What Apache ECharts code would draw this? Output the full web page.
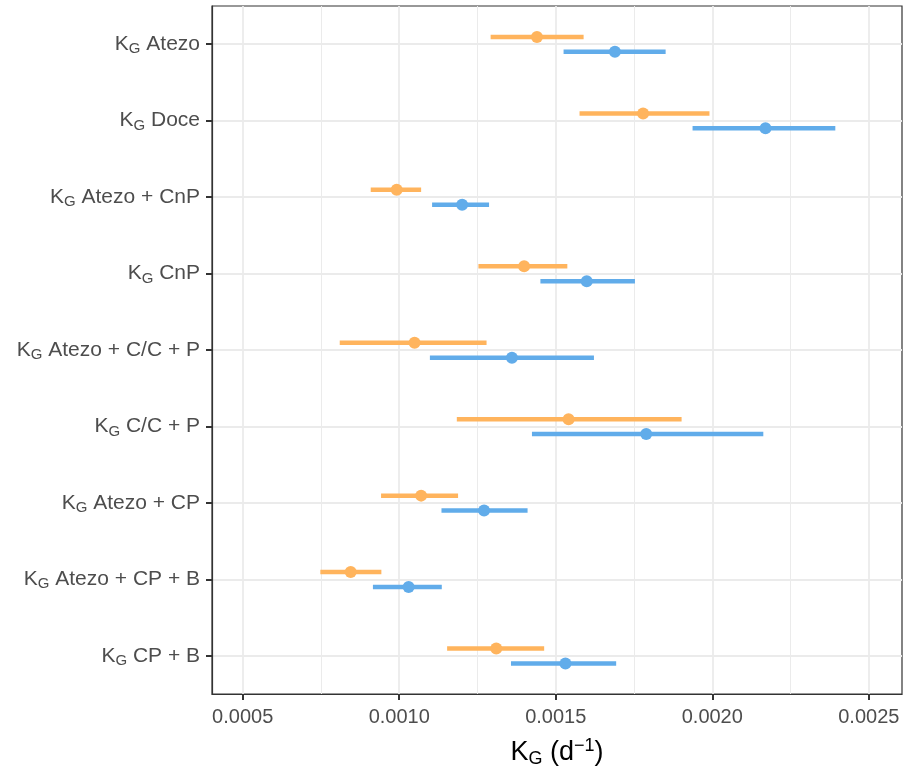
<!DOCTYPE html>
<html>
<head>
<meta charset="utf-8">
<script src="https://cdn.jsdelivr.net/npm/echarts@6/dist/echarts.min.js"></script>
<style>
	html, body { margin: 0; padding: 0; background: #fff; }
	#chart { width: 904px; height: 773px; }
</style>
</head>
<body>
<div id="chart"></div>
<script>
	// categories, top to bottom
	const categories = ['Atezo', 'Doce', 'Atezo + CnP', 'CnP', 'Atezo + C/C + P',
		'C/C + P', 'Atezo + CP', 'Atezo + CP + B', 'CP + B']
	// orange group: low, estimate, high
	const orangeLow = [0.001292, 0.001576, 0.000909, 0.001253, 0.000810, 0.001184, 0.000942, 0.000748, 0.001153]
	const orangeMid = [0.001440, 0.001779, 0.000992, 0.001399, 0.001049, 0.001541, 0.001070, 0.000845, 0.001310]
	const orangeHigh = [0.001589, 0.001991, 0.001070, 0.001537, 0.001279, 0.001902, 0.001188, 0.000943, 0.001463]
	// blue group
	const blueLow = [0.001525, 0.001937, 0.001105, 0.001451, 0.001098, 0.001424, 0.001135, 0.000916, 0.001357]
	const blueMid = [0.001689, 0.002170, 0.001201, 0.001599, 0.001360, 0.001789, 0.001271, 0.001030, 0.001531]
	const blueHigh = [0.001851, 0.002393, 0.001287, 0.001753, 0.001622, 0.002163, 0.001410, 0.001136, 0.001693]
	// x axis ticks
	const xTicks = [0.0005, 0.0010, 0.0015, 0.0020, 0.0025]
	const xMinorTicks = [0.00075, 0.00125, 0.00175, 0.00225]

	const xMin = 0.000402, xMax = 0.002606
	const catIdx = categories.map((c, i) => i)
	const textColor = '#4d4d4d'
	const font = 'Liberation Sans'

	function rows(lo, mid, hi) {
		return categories.map((c, i) => [lo[i], mid[i], hi[i], i])
	}

	// dodge: shift each group by a fraction of the band height
	function rangeItem(shift, color) {
		return function (params, api) {
			const cat = api.value(3)
			const band = api.size([0, 1])[1]
			const dy = band * shift
			const a = api.coord([api.value(0), cat])
			const m = api.coord([api.value(1), cat])
			const b = api.coord([api.value(2), cat])
			return {
				type: 'group',
				children: [{
					type: 'line',
					shape: { x1: a[0], y1: a[1] + dy, x2: b[0], y2: b[1] + dy },
					style: { stroke: color, lineWidth: 4.5, lineCap: 'butt' }
				}, {
					type: 'circle',
					shape: { cx: m[0], cy: m[1] + dy, r: 6 },
					style: { fill: color }
				}]
			}
		}
	}

	const chart = echarts.init(document.getElementById('chart'))
	chart.setOption({
		animation: false,
		grid: {
			left: 212, right: 2, top: 6, bottom: 79,
			outerBoundsMode: 'none',
			show: true, borderColor: '#333', borderWidth: 1.2, backgroundColor: 'transparent'
		},
		xAxis: [{
			type: 'value',
			min: xMin, max: xMax,
			name: '{k|K}{sub|G}{t| (d}{sup|−1}{t|)}',
			nameLocation: 'middle',
			nameGap: 43,
			nameTextStyle: {
				rich: {
					k: { fontSize: 27, color: '#000', fontFamily: font },
					t: { fontSize: 27, color: '#000', fontFamily: font },
					sub: { fontSize: 18, color: '#000', fontFamily: font, padding: [13, 0, 0, 0] },
					sup: { fontSize: 18, color: '#000', fontFamily: font, padding: [0, 0, 12, 0] }
				}
			},
			axisLine: { show: true, onZero: false, lineStyle: { color: '#333', width: 1.2 } },
			axisTick: { show: true, length: 6, customValues: xTicks, lineStyle: { color: '#333', width: 2 } },
			axisLabel: {
				customValues: xTicks,
				margin: 13,
				fontSize: 20, color: textColor, fontFamily: font,
				formatter: v => v.toFixed(4)
			},
			splitLine: { show: true, lineStyle: { color: '#ebebeb', width: 1.8 } }
		}, {
			type: 'value',
			min: xMin, max: xMax,
			position: 'bottom',
			axisLine: { show: false, onZero: false },
			axisTick: { show: false, customValues: xMinorTicks },
			axisLabel: { show: false, customValues: xMinorTicks },
			splitLine: { show: true, lineStyle: { color: '#ebebeb', width: 1 } }
		}],
		yAxis: {
			type: 'value',
			inverse: true,
			min: -0.5, max: categories.length - 0.5,
			axisLine: { show: true, onZero: false, lineStyle: { color: '#333', width: 1.2 } },
			axisTick: { show: true, length: 6, customValues: catIdx, lineStyle: { color: '#333', width: 2 } },
			axisLabel: {
				customValues: catIdx,
				margin: 12,
				formatter: v => '{k|K}{sub|G}{t| ' + categories[Math.round(v)] + '}',
				rich: {
					k: { fontSize: 21, color: textColor, fontFamily: font },
					t: { fontSize: 21, color: textColor, fontFamily: font },
					sub: { fontSize: 15, color: textColor, fontFamily: font, padding: [10, 0, 0, 0] }
				}
			},
			splitLine: { show: true, lineStyle: { color: '#ebebeb', width: 1.8 } }
		},
		series: [{
			name: 'orange',
			type: 'custom',
			renderItem: rangeItem(-0.095, '#ffb45d'),
			encode: { x: [0, 1, 2], y: 3 },
			data: rows(orangeLow, orangeMid, orangeHigh),
			z: 3
		}, {
			name: 'blue',
			type: 'custom',
			renderItem: rangeItem(0.1, '#61acea'),
			encode: { x: [0, 1, 2], y: 3 },
			data: rows(blueLow, blueMid, blueHigh),
			z: 4
		}]
	})
</script>
</body>
</html>
